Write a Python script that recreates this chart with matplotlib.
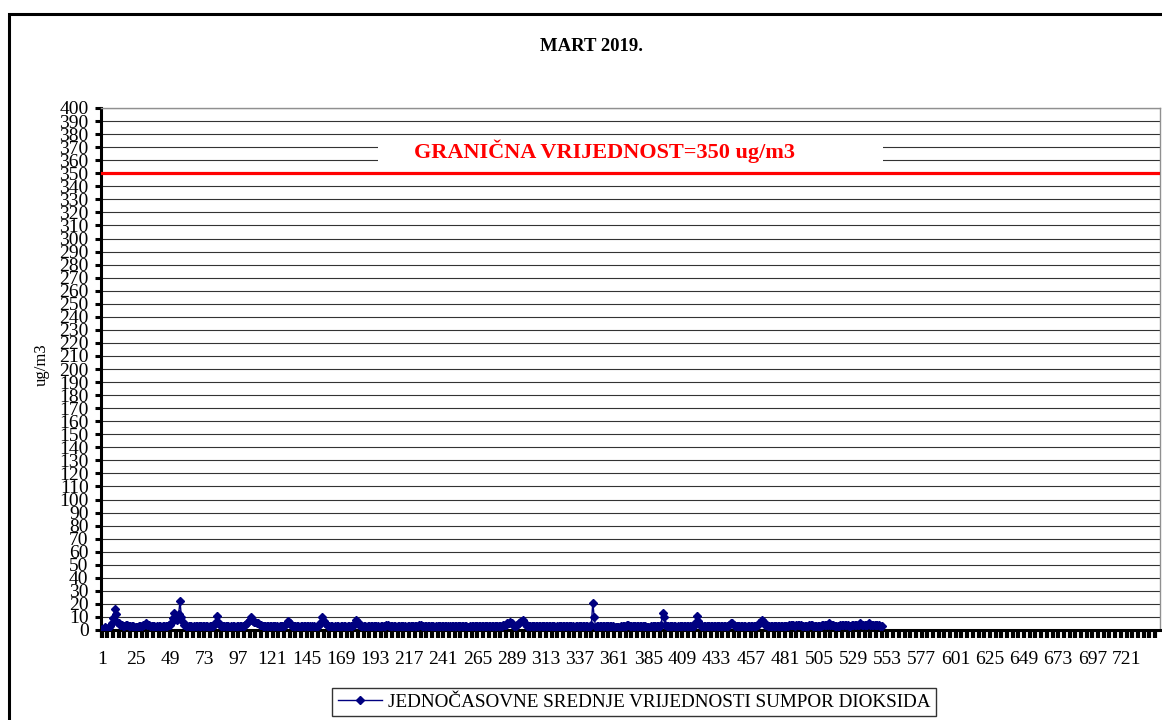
import numpy as np
import matplotlib.pyplot as plt
import matplotlib.transforms as mtransforms
from matplotlib.patches import Rectangle

plt.rcParams['font.family'] = ['Liberation Serif', 'DejaVu Serif']

# hourly SO2 means, March 2019 (one row per day)
so2 = [
    1, 1, 2, 1, 1, 2, 3, 5, 9, 16, 12, 6, 5, 4, 4, 3, 3, 4, 4, 3, 3, 3, 3, 2,
    2, 2, 3, 3, 3, 4, 4, 5, 4, 4, 3, 3, 3, 3, 2, 3, 3, 3, 2, 3, 3, 3, 3, 4,
    4, 5, 9, 13, 11, 8, 12, 22, 10, 6, 4, 3, 3, 3, 3, 3, 2, 3, 3, 3, 3, 3, 3, 3,
    3, 3, 3, 2, 3, 3, 3, 4, 6, 11, 6, 4, 3, 3, 3, 3, 3, 3, 2, 3, 3, 3, 2, 3,
    3, 3, 3, 3, 3, 4, 5, 6, 8, 10, 7, 6, 6, 5, 5, 4, 4, 3, 3, 3, 3, 3, 3, 3,
    3, 3, 3, 3, 2, 3, 3, 3, 3, 4, 5, 7, 5, 4, 3, 3, 3, 3, 3, 2, 3, 3, 3, 3,
    3, 3, 3, 2, 3, 3, 2, 3, 3, 4, 6, 10, 7, 5, 4, 3, 3, 3, 3, 2, 3, 3, 3, 2,
    3, 3, 3, 3, 2, 3, 3, 3, 3, 4, 5, 8, 6, 4, 3, 3, 3, 3, 2, 3, 3, 3, 3, 3,
    3, 3, 3, 2, 3, 3, 3, 3, 4, 4, 3, 3, 3, 3, 3, 2, 3, 3, 3, 3, 3, 3, 2, 3,
    3, 3, 3, 3, 3, 3, 3, 4, 4, 3, 3, 3, 3, 3, 3, 3, 3, 3, 2, 3, 3, 3, 3, 3,
    3, 3, 3, 3, 2, 3, 3, 3, 3, 3, 3, 3, 3, 3, 3, 3, 3, 2, 2, 3, 3, 3, 3, 3,
    3, 3, 3, 3, 3, 3, 3, 3, 3, 3, 3, 3, 3, 3, 3, 3, 3, 3, 4, 4, 4, 5, 5, 6,
    5, 4, 3, 3, 4, 5, 6, 7, 8, 6, 4, 3, 3, 3, 3, 3, 3, 3, 3, 3, 3, 3, 3, 3,
    3, 3, 3, 3, 3, 3, 3, 2, 3, 3, 3, 3, 3, 3, 3, 3, 3, 3, 3, 3, 2, 3, 3, 3,
    3, 3, 3, 3, 3, 3, 2, 3, 4, 21, 10, 2, 3, 3, 3, 3, 3, 3, 3, 3, 3, 3, 3, 3,
    2, 2, 2, 2, 2, 3, 3, 3, 3, 4, 4, 3, 3, 3, 3, 3, 3, 3, 3, 3, 3, 3, 3, 2,
    2, 2, 3, 3, 3, 3, 3, 3, 3, 4, 13, 10, 4, 3, 3, 3, 3, 3, 3, 3, 2, 3, 3, 3,
    3, 3, 3, 3, 3, 3, 2, 3, 3, 5, 11, 7, 4, 3, 3, 3, 3, 3, 3, 3, 3, 3, 3, 3,
    3, 3, 3, 3, 3, 3, 3, 3, 3, 4, 5, 5, 4, 3, 3, 3, 3, 3, 3, 3, 3, 2, 3, 3,
    3, 3, 3, 3, 3, 4, 5, 6, 8, 6, 4, 4, 3, 3, 3, 3, 3, 3, 3, 3, 3, 3, 3, 3,
    3, 3, 3, 4, 4, 4, 4, 3, 4, 4, 4, 4, 3, 3, 3, 3, 3, 4, 4, 4, 3, 3, 3, 3,
    3, 3, 4, 4, 4, 4, 4, 5, 4, 4, 4, 3, 3, 3, 3, 4, 4, 4, 4, 4, 4, 3, 3, 4,
    4, 4, 4, 4, 4, 5, 4, 4, 4, 4, 4, 5, 4, 4, 4, 4, 4, 4, 4, 3, 3,
]
hours = np.arange(1, len(so2) + 1)
n_hours = 744
limit = 350
x_ticks = [1, 25, 49, 73, 97, 121, 145, 169, 193, 217, 241, 265, 289, 313, 337,
           361, 385, 409, 433, 457, 481, 505, 529, 553, 577, 601, 625, 649, 673,
           697, 721]

fig = plt.figure(figsize=(11.62, 7.2), dpi=100)
ax = fig.add_axes([101 / 1162, 1 - 630 / 720, 1059 / 1162, 522 / 720])

ax.plot(hours, so2, color='#000080', lw=1, marker='D', ms=4.5,
        mfc='#000080', mec='#000080', zorder=4,
        label='JEDNOČASOVNE SREDNJE VRIJEDNOSTI SUMPOR DIOKSIDA')
ax.axhline(limit, color='red', lw=2.3, zorder=3)

# white text box over the gridlines
trans = mtransforms.blended_transform_factory(ax.transAxes, ax.transData)
ax.add_patch(Rectangle((0.2616, 354), 0.4765, 24, transform=trans,
                       facecolor='white', edgecolor='none', zorder=1))
ax.text(0.475, 367, 'GRANIČNA VRIJEDNOST=350 ug/m3', transform=trans,
        ha='center', va='center', color='red', fontweight='bold',
        fontsize=16, zorder=5)

ax.set_xlim(0.5, n_hours + 0.5)
ax.set_ylim(0, 400)
ax.set_yticks(np.arange(0, 401, 10))
ax.set_xticks(x_ticks)
ax.set_xticklabels([str(t) for t in x_ticks])
ax.set_xticks(np.arange(1, n_hours + 1, 4), minor=True)
ax.yaxis.grid(True, color='#333333', lw=0.8)
ax.set_axisbelow(True)

ax.tick_params(axis='y', length=4, width=2.2, pad=5, labelsize=14)
ax.tick_params(axis='x', which='both', length=6, width=3, labelsize=14)
ax.tick_params(axis='x', which='major', pad=9)

for s in ['left', 'bottom']:
    ax.spines[s].set_linewidth(2.2)
    ax.spines[s].set_color('black')
for s in ['top', 'right']:
    ax.spines[s].set_linewidth(1)
    ax.spines[s].set_color('#909090')

fig.text(0.509, 0.936, 'MART 2019.', ha='center', va='center',
         fontweight='bold', fontsize=13.5)
fig.text(42 / 1162, 1 - 365 / 720, 'ug/m3', rotation=90, ha='center',
         va='center', fontsize=12)

leg = fig.legend(loc='center', bbox_to_anchor=(634 / 1162, 1 - 702 / 720),
                 frameon=True, fancybox=False, fontsize=13.8, handlelength=2.3,
                 borderpad=0.3, handletextpad=0.3)
leg.get_frame().set_edgecolor('black')
leg.get_frame().set_linewidth(1)

# outer chart border
fig.patches.append(Rectangle((8.5 / 1162, -0.1), 1.2, 1.1 - 13.5 / 720,
                             transform=fig.transFigure, fill=False,
                             lw=2.2, edgecolor='black'))

fig.savefig('out.png', dpi=100)
